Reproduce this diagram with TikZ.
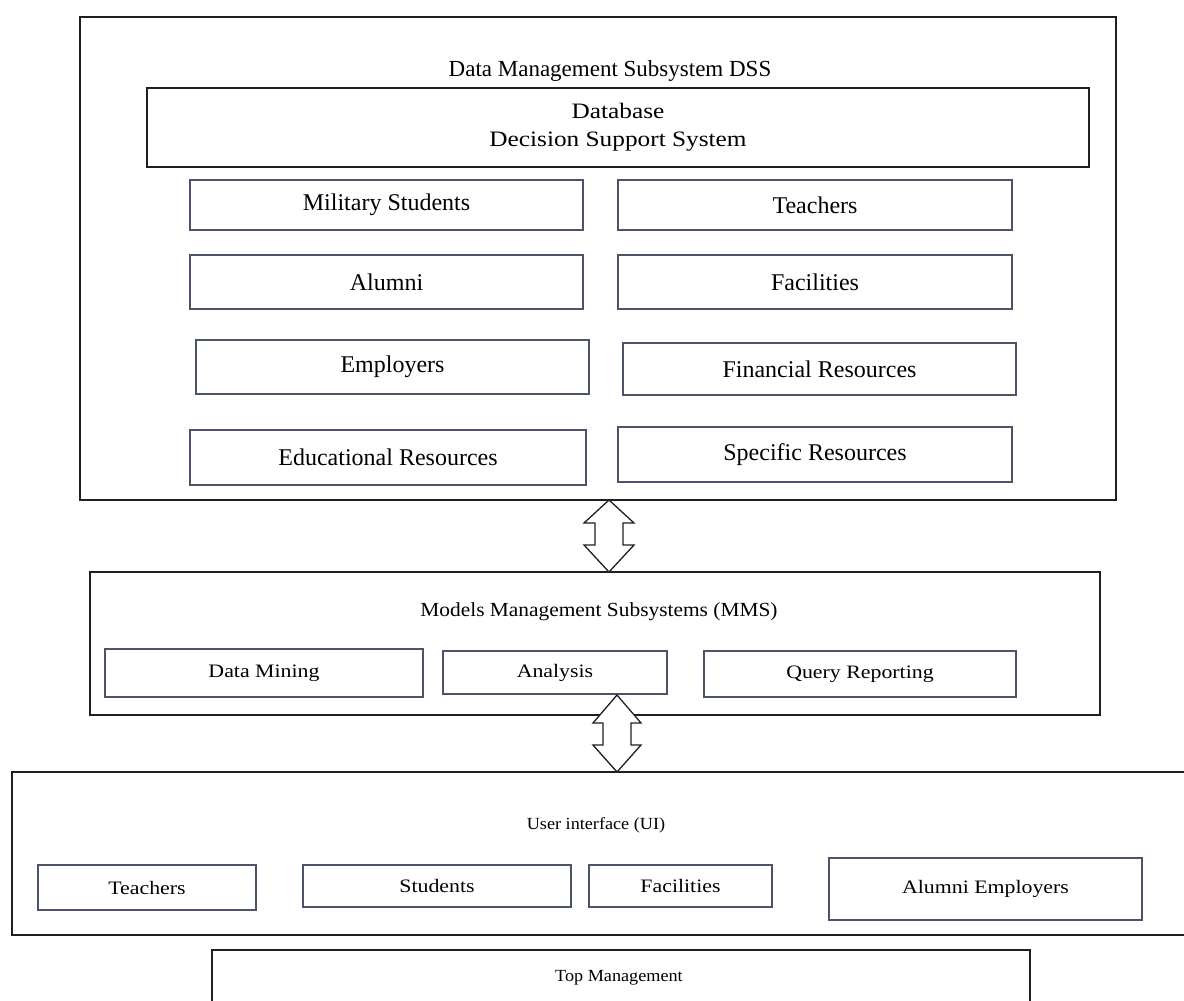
\documentclass[tikz,border=0pt]{standalone}
\usepackage{fontspec}
\setmainfont{Liberation Serif}
\newfontfamily\widefont[FakeStretch=1.15]{Liberation Serif}
\newfontfamily\midfont[FakeStretch=1.07]{Liberation Serif}
\definecolor{itemc}{rgb}{0.30,0.33,0.42}
\definecolor{framec}{rgb}{0.12,0.12,0.12}
\begin{document}
\begin{tikzpicture}[x=1pt,y=-1pt]
\tikzset{
  frame/.style={draw=framec, line width=1.6pt, inner sep=0pt, outer sep=0pt},
  item/.style={draw=itemc, line width=1.1pt, inner sep=0pt, outer sep=0pt,
    font=\fontsize{24}{28}\selectfont},
  smallitem/.style={item, font=\widefont\fontsize{19}{22}\selectfont},
  title/.style={inner sep=0pt, font=\fontsize{23}{27}\selectfont},
  dblarrow/.style={draw=framec, line width=1.3pt, fill=white, line join=miter}
}
\useasboundingbox (0,0) rectangle (1184,1001);
\fill[white] (0,0) rectangle (1184,1001);
\clip (0,0) rectangle (1184,1001);

% Data management subsystem
\node[frame, minimum width=1036, minimum height=483] (dss) at (598,258.5) {};
\node[title] (dsst) at (610,71) {Data Management Subsystem DSS};
\node[frame, minimum width=942, minimum height=79, align=center,
      font=\widefont\fontsize{22}{28}\selectfont] (db) at (618,127.5)
      {Database\\Decision Support System};
\node[item, minimum width=393, minimum height=50] (mil) at (386.5,205) {Military Students};
\node[item, minimum width=394, minimum height=50] (tea) at (815,205) {Teachers};
\node[item, minimum width=393, minimum height=54] (alu) at (386.5,282) {Alumni};
\node[item, minimum width=394, minimum height=54] (fac) at (815,282) {Facilities};
\node[item, minimum width=393, minimum height=54] (emp) at (392.5,367) {Employers};
\node[item, minimum width=393, minimum height=52] (fin) at (819.5,369) {Financial Resources};
\node[item, minimum width=396, minimum height=55] (edu) at (388,457.5) {Educational Resources};
\node[item, minimum width=394, minimum height=55] (spe) at (815,454.5) {Specific Resources};

% Models management subsystem
\node[frame, minimum width=1010, minimum height=143] (mms) at (595,643.5) {};
\node[title, font=\midfont\fontsize{20}{24}\selectfont] (mmst) at (599,612)
      {Models Management Subsystems (MMS)};
\node[smallitem, minimum width=318, minimum height=48] (dm) at (264,673) {Data Mining};
\node[smallitem, minimum width=224, minimum height=43] (ana) at (555,672.5) {Analysis};
\node[smallitem, minimum width=312, minimum height=46] (qr) at (860,674) {Query Reporting};

% User interface
\node[frame, minimum width=1188, minimum height=163] (ui) at (606,853.5) {};
\node[title, font=\midfont\fontsize{17}{21}\selectfont] (uit) at (596,825) {User interface (UI)};
\node[smallitem, minimum width=218, minimum height=45] (ut) at (147,887.5) {Teachers};
\node[smallitem, minimum width=268, minimum height=42] (us) at (437,886) {Students};
\node[smallitem, minimum width=183, minimum height=42] (uf) at (680.5,886) {Facilities};
\node[smallitem, line width=1.8pt, minimum width=313, minimum height=62] (ua) at (985.5,889) {Alumni Employers};

% Top management
\node[frame, minimum width=818, minimum height=80] (top) at (621,990) {};
\node[title, font=\midfont\fontsize{17}{21}\selectfont] (topt) at (619,978) {Top Management};

% Double arrows between the subsystems
\coordinate (a1t) at (609,500);
\coordinate (a1b) at (609,572);
\draw[dblarrow] (a1t) -- ++(25,23) -- ++(-11,0) -- ++(0,22) -- ++(11,0)
  -- (a1b) -- ++(-25,-27) -- ++(11,0) -- ++(0,-22) -- ++(-11,0) -- cycle;
\coordinate (a2t) at (617,695);
\coordinate (a2b) at (617,772);
\draw[dblarrow] (a2t) -- ++(24,28) -- ++(-10,0) -- ++(0,22) -- ++(10,0)
  -- (a2b) -- ++(-24,-27) -- ++(10,0) -- ++(0,-22) -- ++(-10,0) -- cycle;
\end{tikzpicture}
\end{document}
